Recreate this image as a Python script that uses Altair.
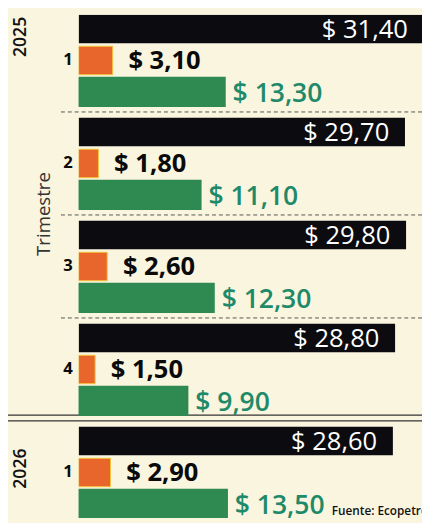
import altair as alt
import pandas as pd

groups = ["2025-1", "2025-2", "2025-3", "2025-4", "2026-1"]
years = ["2025", "2025", "2025", "2025", "2026"]
quarters = ["1", "2", "3", "4", "1"]
ingresos = [31.40, 29.70, 29.80, 28.80, 28.60]
utilidad = [3.10, 1.80, 2.60, 1.50, 2.90]
ebitda = [13.30, 11.10, 12.30, 9.90, 13.50]
metrics = ["Ingresos", "Utilidad", "Ebitda"]

rows = []
for g, y, q, a, b, c in zip(groups, years, quarters, ingresos, utilidad, ebitda):
    for m, v in zip(metrics, [a, b, c]):
        rows.append({"grupo": g, "anio": y, "trimestre": q, "serie": m, "valor": v})
df = pd.DataFrame(rows)

BG = "#faf5df"
YSCALE = alt.Scale(domain=groups, paddingInner=0.114, paddingOuter=0)
XSCALE = alt.Scale(domain=[0, 31.25], nice=False)


def ycol(**kw):
    return alt.Y("grupo:N", sort=groups, axis=None, scale=YSCALE, **kw)


yoff = alt.YOffset("serie:N", sort=metrics,
                   scale=alt.Scale(domain=metrics, paddingInner=0.097, paddingOuter=0))
xcol = alt.X("valor:Q", axis=None, scale=XSCALE)

base = alt.Chart(df).transform_calculate(
    etiqueta="'$ ' + replace(format(datum.valor, '.2f'), '.', ',')"
)

bars = base.mark_bar(clip=True).encode(
    x=xcol, y=ycol(), yOffset=yoff,
    color=alt.Color("serie:N", sort=metrics, legend=None,
                    scale=alt.Scale(domain=metrics, range=["#0b0b10", "#e8652b", "#2f8a52"])),
    stroke=alt.Stroke("serie:N", sort=metrics, legend=None,
                      scale=alt.Scale(domain=metrics, range=["#0b0b10", "#f2c43a", "#2f8a52"])),
    strokeWidth=alt.StrokeWidth("serie:N", sort=metrics, legend=None,
                                scale=alt.Scale(domain=metrics, range=[0, 2, 0])),
)

lab_black = base.transform_filter("datum.serie == 'Ingresos'").mark_text(
    align="right", baseline="middle", dx=-16, dy=1, color="white",
    font="Open Sans", fontSize=26
).encode(x=xcol, y=ycol(), yOffset=yoff, text="etiqueta:N")

lab_orange = base.transform_filter("datum.serie == 'Utilidad'").mark_text(
    align="left", baseline="middle", dx=16, dy=1, color="#0a0a0a",
    font="Open Sans", fontWeight="bold", fontSize=26
).encode(x=xcol, y=ycol(), yOffset=yoff, text="etiqueta:N")

lab_green = base.transform_filter("datum.serie == 'Ebitda'").mark_text(
    align="left", baseline="middle", dx=8, dy=2, color="#1f8a6a",
    font="Open Sans", fontWeight=600, fontSize=27
).encode(x=xcol, y=ycol(), yOffset=yoff, text="etiqueta:N")

lab_q = base.transform_filter("datum.serie == 'Utilidad'").mark_text(
    align="right", baseline="middle", color="#0a0a0a",
    font="Open Sans", fontWeight="bold", fontSize=17
).encode(x=alt.value(-6), y=ycol(), yOffset=yoff, text="trimestre:N")

sep = alt.Chart(pd.DataFrame({"grupo": ["2025-2", "2025-3", "2025-4"]})).mark_rule(
    strokeDash=[4, 3], color="#555", strokeWidth=1, yOffset=-6
).encode(y=ycol(bandPosition=0), x=alt.value(-18), x2=alt.value(350))

dbl_df = pd.DataFrame({"grupo": ["2026-1"]})
dbl1 = alt.Chart(dbl_df).mark_rule(color="#333", strokeWidth=1.3, yOffset=-12).encode(
    y=ycol(bandPosition=0), x=alt.value(-80), x2=alt.value(350))
dbl2 = alt.Chart(dbl_df).mark_rule(color="#333", strokeWidth=1.3, yOffset=-6).encode(
    y=ycol(bandPosition=0), x=alt.value(-80), x2=alt.value(350))

year_style = dict(angle=270, align="center", baseline="middle", color="#111",
                  font="Open Sans", fontWeight=600, fontSize=18)
year1 = alt.Chart(pd.DataFrame({"grupo": ["2025-1"], "anio": ["2025"]})).mark_text(
    yOffset=-24, **year_style).encode(y=ycol(), x=alt.value(-59), text="anio:N")
year2 = alt.Chart(pd.DataFrame({"grupo": ["2026-1"], "anio": ["2026"]})).mark_text(
    yOffset=-4, **year_style).encode(y=ycol(), x=alt.value(-59), text="anio:N")

tri = alt.Chart(pd.DataFrame({"t": ["Trimestre"]})).mark_text(
    angle=270, align="center", baseline="middle", color="#333",
    font="Open Sans", fontSize=19
).encode(x=alt.value(-35), y=alt.value(203), text="t:N")

fuente = alt.Chart(pd.DataFrame({"t": ["Fuente: Ecopetrol"]})).mark_text(
    align="left", baseline="alphabetic", color="#111",
    font="Open Sans", fontWeight=600, fontSize=12
).encode(x=alt.value(258), y=alt.value(510), text="t:N")

chart = alt.layer(sep, dbl1, dbl2, bars, lab_black, lab_orange, lab_green, lab_q,
                  year1, year2, tri, fuente).properties(
    width=350, height=513,
    padding={"left": 72, "top": 2, "right": 0, "bottom": 0},
    autosize=alt.AutoSizeParams(type="none"),
    background=BG,
).configure_view(stroke=None)

chart.save("out.html", embed_options={"renderer": "svg", "actions": False})
